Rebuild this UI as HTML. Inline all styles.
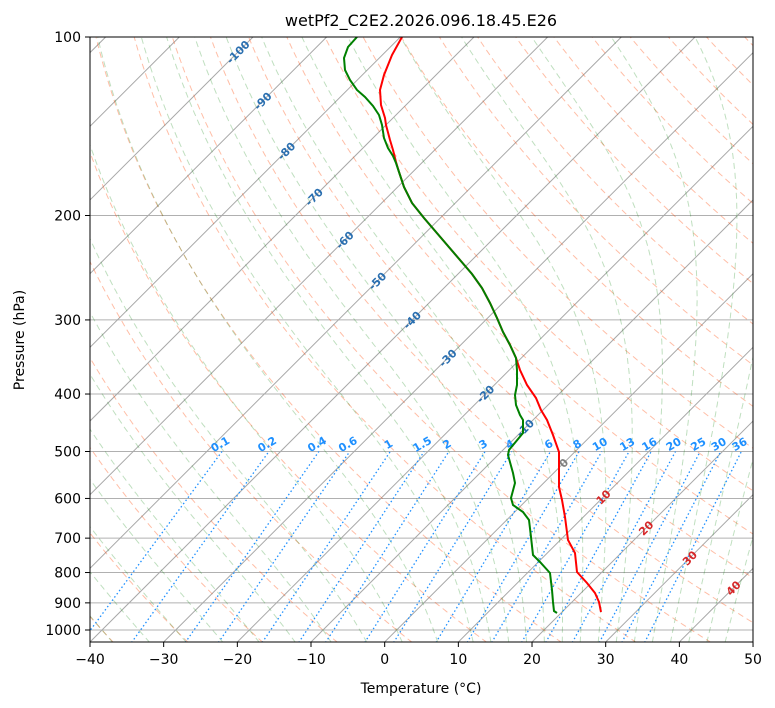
<!DOCTYPE html>
<html><head><meta charset="utf-8"><style>
html,body{margin:0;padding:0;background:#fff;}
svg{display:block;font-family:"DejaVu Sans","Liberation Sans",sans-serif;}
</style></head><body>
<svg id="s" width="775" height="708" xmlns="http://www.w3.org/2000/svg">
<defs><clipPath id="c"><rect x="90" y="37" width="663" height="605"/></clipPath></defs>
<rect width="775" height="708" fill="#fff"/>
<g id="g" clip-path="url(#c)"></g>
<g id="a"></g>
</svg>
<script>
const NS="http://www.w3.org/2000/svg";
const g=document.getElementById('g'), a=document.getElementById('a');
function Y(p){return 37+593*Math.log10(p/100);}
function X(T,p){return 90+(T+40)*7.367+(642-Y(p));}
function el(par,tag,at,txt){const e=document.createElementNS(NS,tag);for(const k in at)e.setAttribute(k,at[k]);if(txt!==undefined)e.textContent=txt;par.appendChild(e);return e;}
function path(pts,at){let d=pts.map((q,i)=>(i?'L':'M')+q[0].toFixed(1)+' '+q[1].toFixed(1)).join('');at.d=d;at.fill='none';el(g,'path',at);}
const ps=[];for(let p=1050;p>=100;p-=5)ps.push(p);
for(let p=100;p<=1000;p+=100)el(g,'line',{x1:90,x2:753,y1:Y(p),y2:Y(p),stroke:'#b0b0b0','stroke-width':1});
for(let T=-150;T<=50;T+=10)el(g,'line',{x1:X(T,1050),y1:Y(1050),x2:X(T,100),y2:Y(100),stroke:'#a8a8a8','stroke-width':1});
for(let t=-50;t<=200;t+=10){const th=t+273.15;path(ps.map(p=>[X(th*Math.pow(p/1000,0.2857)-273.15,p),Y(p)]),{stroke:'#ff4500','stroke-opacity':0.35,'stroke-dasharray':'6,4','stroke-width':1});}
function es(T){return 6.112*Math.exp(17.67*T/(T+243.5));}
function dTdp(Tk,p){const rs=0.622*es(Tk-273.15)/(p-es(Tk-273.15));return (287.04*Tk+2.501e6*rs)/(p*(1005.7+2.501e6*2.501e6*rs*0.622/(287.04*Tk*Tk)));}
const m0=[];for(let t=-50;t<=10;t+=5)m0.push(t);for(let t=12.5;t<=45;t+=2.5)m0.push(t);
for(const t0 of m0){let pts=[];let T=t0+273.15;
 let Td=T;for(let p=1000;p<1050;p+=1){Td+=dTdp(Td,p)*1;} pts.push([X(Td-273.15,1050),Y(1050)]);
 for(let p=1000;p>100;p-=2){pts.push([X(T-273.15,p),Y(p)]);T-=dTdp(T,p)*2;}
 pts.push([X(T-273.15,100),Y(100)]);
 path(pts,{stroke:'#008000','stroke-opacity':0.25,'stroke-dasharray':'6,4','stroke-width':1});}
const ws=[0.1,0.2,0.4,0.6,1,1.5,2,3,4,6,8,10,13,16,20,25,30,36];
function tdw(w,p){w/=1000;const e=w*p/(0.622+w);const x=Math.log(e/6.112);return 243.5*x/(17.67-x);}
for(const w of ws){path([[X(tdw(w,1050),1050),Y(1050)],[X(tdw(w,500),500),Y(500)]],{stroke:'#1e90ff','stroke-dasharray':'1.5,2.5','stroke-width':1.3});
 const x=X(tdw(w,500),500),y=Y(500)-4;el(g,'text',{x:x,y:y,'font-size':11,'font-weight':'bold',fill:'#1e90ff','text-anchor':'middle',transform:`rotate(-30 ${x} ${y})`},String(w));}
const lab=[[-100,52],[-90,101],[-80,151],[-70,197],[-60,240],[-50,281],[-40,320],[-30,358],[-20,394],[-10,428],[0,463],[10,497],[20,528],[30,558],[40,588]];
for(const [T,y] of lab){const x=90+(T+40)*7.367+(642-y);const c=T<0?'#2a6fb0':(T==0?'#808080':'#d62728');
 el(g,'text',{x:x,y:y+4,'font-size':11,'font-weight':'bold',fill:c,'text-anchor':'middle',transform:`rotate(-45 ${x} ${y})`},String(T));}
const red=[[402,37],[392,55],[384,75],[380,90],[381,105],[385,118],[386,125],[390,140],[393,150],[396,162],[399,172],[404,187],[412,203],[424,218],[436,232],[448,246],[460,260],[472,274],[482,288],[490,303],[497,318],[503,332],[510,345],[516,358],[520,370],[527,385],[536,398],[541,410],[547,420],[553,435],[559,452],[559,463],[559,487],[562,500],[565,517],[568,540],[575,553],[577,572],[587,583],[595,593],[599,602],[601,612]];
const grn=[[357,37],[348,47],[344,58],[345,70],[350,80],[357,90],[365,97],[373,106],[379,115],[382,125],[384,138],[388,148],[393,156],[396,163],[399,172],[404,187],[412,203],[424,218],[436,232],[448,246],[460,260],[472,274],[482,288],[490,303],[497,318],[503,332],[510,345],[516,358],[517,370],[517,385],[515,395],[516,405],[520,415],[523,420],[523,433],[509,450],[508,455],[513,473],[515,483],[511,498],[513,505],[523,512],[529,520],[531,537],[533,555],[540,562],[550,573],[552,590],[553,602],[554,611],[557,613]];
path(red,{stroke:'#ff0000','stroke-width':2});
path(grn,{stroke:'#008000','stroke-width':2});
el(a,'rect',{x:90,y:37,width:663,height:605,fill:'none',stroke:'#000','stroke-width':1});
for(let T=-40;T<=50;T+=10){const x=90+(T+40)*7.367;el(a,'line',{x1:x,x2:x,y1:642,y2:647,stroke:'#000'});
 el(a,'text',{x:x,y:664,'font-size':14,'text-anchor':'middle',fill:'#000'},T<0?'\u2212'+(-T):String(T));}
for(let p=100;p<=1000;p+=100){const y=Y(p);el(a,'line',{x1:85,x2:90,y1:y,y2:y,stroke:'#000'});
 el(a,'text',{x:81,y:y+5,'font-size':14,'text-anchor':'end',fill:'#000'},String(p));}
el(a,'text',{x:421,y:693,'font-size':14,'text-anchor':'middle',fill:'#000'},'Temperature (°C)');
el(a,'text',{x:24,y:340,'font-size':14,'text-anchor':'middle',fill:'#000',transform:'rotate(-90 24 340)'},'Pressure (hPa)');
el(a,'text',{x:421,y:26,'font-size':16,'text-anchor':'middle',fill:'#000'},'wetPf2_C2E2.2026.096.18.45.E26');
</script>
</body></html>
